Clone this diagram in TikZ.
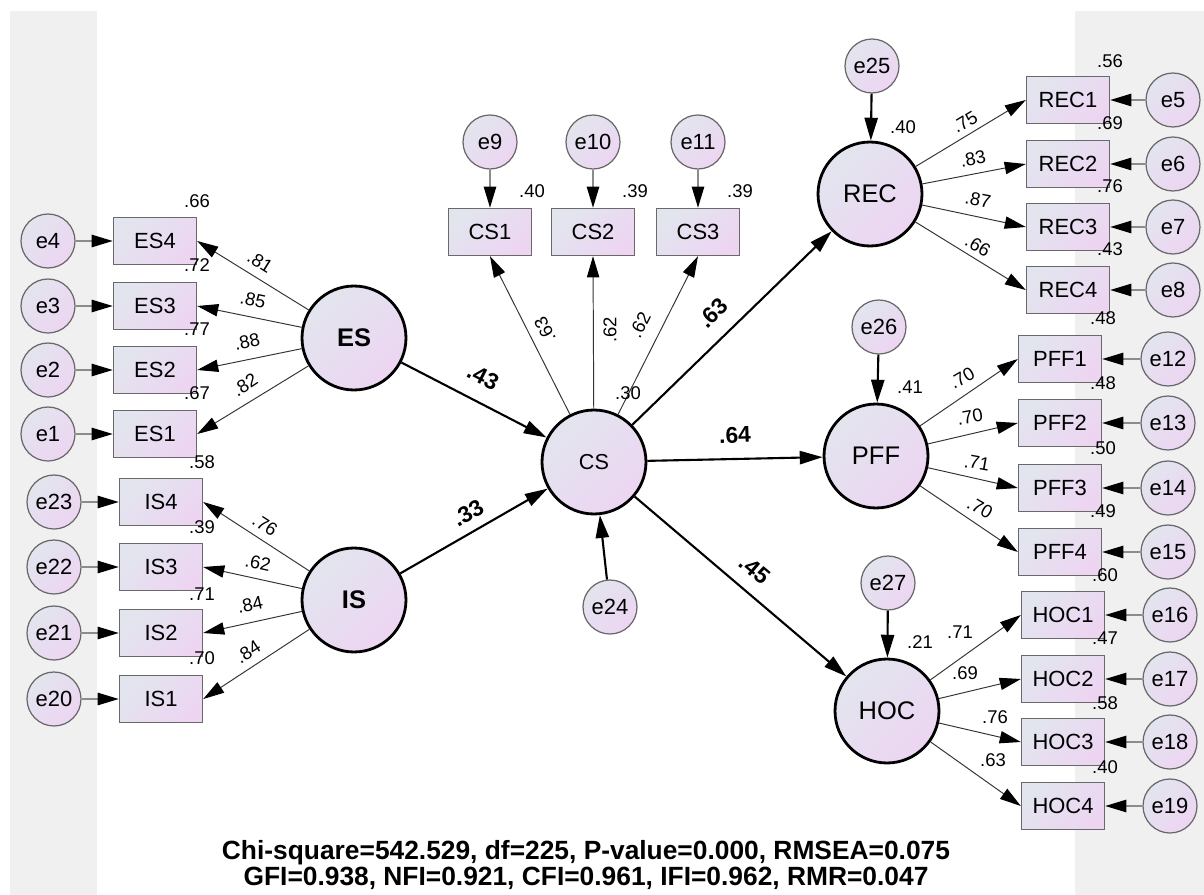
\documentclass[tikz,border=0pt]{standalone}
\usepackage{fontspec}
\setmainfont{Liberation Sans}
\usetikzlibrary{arrows.meta}
\definecolor{shadeA}{RGB}{226,229,238}
\definecolor{shadeB}{RGB}{237,213,242}
\definecolor{stripgray}{RGB}{240,240,240}
\definecolor{rimgray}{RGB}{105,105,105}
\definecolor{linegray}{RGB}{140,140,140}
\tikzset{
	fillshade/.style={top color=shadeA,bottom color=shadeB,shading angle=45},
	err/.style={circle,draw=rimgray,line width=0.7pt,fillshade,minimum size=1.08cm,inner sep=0pt,font=\fontsize{12.5}{14}\selectfont},
	obs/.style={rectangle,draw=rimgray,line width=0.8pt,fillshade,minimum width=1.66cm,minimum height=0.94cm,inner sep=0pt,font=\fontsize{12.5}{14}\selectfont},
	lat/.style={circle,draw=black,line width=1.6pt,fillshade,minimum size=2.08cm,inner sep=0pt,font=\fontsize{14.5}{16}\selectfont},
	val/.style={inner sep=0pt,font=\fontsize{10.5}{12}\selectfont},
	bigval/.style={inner sep=0pt,font=\bfseries\fontsize{13}{15}\selectfont},
	errline/.style={draw=linegray,line width=0.9pt,-{Triangle[length=12pt,width=7pt,color=black,fill=black]}},
	load/.style={draw=black!80,line width=0.55pt,-{Triangle[length=12pt,width=7pt,color=black,fill=black]}},
	struct/.style={draw=black,line width=1.2pt,-{Triangle[length=13pt,width=7.5pt,color=black,fill=black]}}
}
\begin{document}
\begin{tikzpicture}[x=0.02cm,y=-0.02cm]
	\useasboundingbox (0,0) rectangle (1204,895);
	% grey strips
		\fill[stripgray] (10,11) rectangle (97,895);
		\fill[stripgray] (1075,11) rectangle (1204,895);
	% latent variables
		\node[lat,font=\bfseries\fontsize{14.5}{16}\selectfont] (ES) at (354,338) {ES};
		\node[lat,font=\bfseries\fontsize{14.5}{16}\selectfont] (IS) at (354,600) {IS};
		\node[lat,font=\fontsize{12.3}{14}\selectfont] (CS) at (594,462) {CS};
		\node[lat] (REC) at (870,194) {REC};
		\node[lat] (PFF) at (876,456) {PFF};
		\node[lat] (HOC) at (887,711) {HOC};
	% disturbances
		\node[err] (e24) at (610,607) {e24};
		\node[err] (e25) at (872,66) {e25};
		\node[err] (e26) at (879,327) {e26};
		\node[err] (e27) at (888,583) {e27};
	% structural paths
		\foreach \from/\to in {ES/CS,IS/CS,CS/REC,CS/PFF,CS/HOC,e24/CS,e25/REC,e26/PFF,e27/HOC}
			\draw[struct] (\from) -- (\to);
	% ES indicators
		\foreach \i/\y in {4/241,3/306,2/370,1/434}{
			\node[obs] (ES\i) at (155,\y) {ES\i};
			\node[err] (e\i) at (48,\y) {e\i};
			\draw[errline] (e\i) -- (ES\i);
			\draw[load] (ES) -- (ES\i.east);
		}
	% IS indicators
		\foreach \i/\e/\y in {4/23/502,3/22/567,2/21/633,1/20/699}{
			\node[obs] (IS\i) at (161,\y) {IS\i};
			\node[err] (e\e) at (54,\y) {e\e};
			\draw[errline] (e\e) -- (IS\i);
			\draw[load] (IS) -- (IS\i.east);
		}
	% CS indicators on top
		\foreach \i/\e/\x in {1/9/490,2/10/593,3/11/698}{
			\node[obs] (CS\i) at (\x,232) {CS\i};
			\node[err] (e\e) at (\x,142) {e\e};
			\draw[errline] (e\e) -- (CS\i);
			\draw[load] (CS) -- (CS\i.south);
		}
	% REC indicators
		\foreach \i/\e/\y in {1/5/100,2/6/164,3/7/227,4/8/290}{
			\node[obs] (REC\i) at (1068,\y) {REC\i};
			\node[err] (e\e) at (1173,\y) {e\e};
			\draw[errline] (e\e) -- (REC\i);
			\draw[load] (REC) -- (REC\i.west);
		}
	% PFF indicators
		\foreach \i/\e/\y in {1/12/359,2/13/423,3/14/488,4/15/552}{
			\node[obs] (PFF\i) at (1060,\y) {PFF\i};
			\node[err] (e\e) at (1168,\y) {e\e};
			\draw[errline] (e\e) -- (PFF\i);
			\draw[load] (PFF) -- (PFF\i.west);
		}
	% HOC indicators
		\foreach \i/\e/\y in {1/16/615,2/17/679,3/18/742,4/19/806}{
			\node[obs] (HOC\i) at (1063,\y) {HOC\i};
			\node[err] (e\e) at (1170,\y) {e\e};
			\draw[errline] (e\e) -- (HOC\i);
			\draw[load] (HOC) -- (HOC\i.west);
		}
	% squared multiple correlations
		\foreach \name/\x/\y/\v in {r66/197/201/.66,r72/197/265/.72,r77/197/329/.77,r67/197/393/.67,
				r58/202/462/.58,r39/202/527/.39,r71/202/594/.71,r70/202/658/.70,
				rcsa/532/191/.40,rcsb/635/191/.39,rcsc/740/191/.39,rcs/628/393/.30,
				rrec/903/127/.40,rpff/910/387/.41,rhoc/920/642/.21,
				rreca/1110/61/.56,rrecb/1110/123/.69,rrecc/1110/186/.76,rrecd/1110/249/.43,
				rpffa/1103/318/.48,rpffb/1103/383/.48,rpffc/1103/448/.50,rpffd/1103/511/.49,
				rhoca/1105/575/.60,rhocb/1105/638/.47,rhocc/1105/703/.58,rhocd/1105/767/.40}
			\node[val] (\name) at (\x,\y) {\v};
	% loadings
		\foreach \name/\x/\y/\a/\v in {les4/260/262/-32/.81,les3/253/300/-12/.85,les2/247/342/12/.88,les1/245/385/33/.82,
				lis4/265/525/-33/.76,lis3/258/563/-12/.62,lis2/250/605/12/.84,lis1/248/652/33/.84,
				lcs1/545/330/117/.63,lcs2/610/330/90/.62,lcs3/640/325/63/.62,
				lrec1/965/122/31/.75,lrec2/973/159/11/.83,lrec3/978/200/-11/.87,lrec4/978/246/-31/.66,
				lpff1/962/378/30/.70,lpff2/970/417/10/.70,lpff3/977/463/-10/.71,lpff4/980/508/-30/.70,
				lhoc1/960/632/0/.71,lhoc2/965/673/0/.69,lhoc3/995/717/0/.76,lhoc4/993/760/0/.63}
			\node[val,rotate=\a] (\name) at (\x,\y) {\v};
	% path coefficients
		\foreach \name/\x/\y/\a/\v in {pes/483/377/-27/.43,pis/468/513/30/.33,prec/713/313/44/.63,ppff/735/435/2/.64,phoc/755/570/-40/.45}
			\node[bigval,rotate=\a] (\name) at (\x,\y) {\v};
	% fit indices
		\node[align=center,inner sep=0pt,font=\bfseries\fontsize{15}{14.8}\selectfont] (fit) at (586,865)
			{Chi-square=542.529, df=225, P-value=0.000, RMSEA=0.075\\GFI=0.938, NFI=0.921, CFI=0.961, IFI=0.962, RMR=0.047};
\end{tikzpicture}
\end{document}
